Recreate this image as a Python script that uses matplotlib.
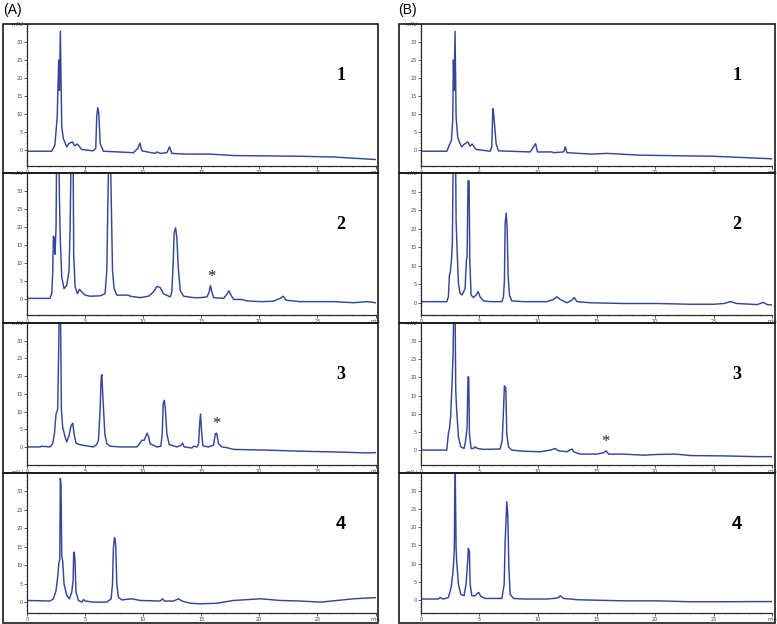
import matplotlib.pyplot as plt
from matplotlib.patches import Rectangle
from matplotlib.ticker import MultipleLocator

# retention time (min) / absorbance (mAU)
a1_t = [0, 2.13, 2.4, 2.6, 2.73, 2.79, 2.87, 2.99, 3.13, 3.42, 3.6, 3.9, 4.1, 4.34, 4.7, 5.7, 5.92, 6.0, 6.09, 6.18, 6.3, 6.58,
        9.17, 9.54, 9.71, 9.89, 11.03, 11.18, 11.47, 12.04, 12.27, 12.47, 13.76, 15.78, 17.8, 23.5, 26.4, 30.0]
a1_y = [-0.3, -0.3, 1.4, 9.2, 25, 16.6, 33, 6.5, 3.2, 0.9, 1.8, 2.3, 1.2, 1.7, 0.2, -0.2, 0.5, 9.2, 11.8, 10.2, 1.8, -0.3,
        -0.7, 0.5, 2.0, -0.2, -0.9, -0.5, -0.9, -0.7, 0.9, -0.9, -1.1, -1.1, -1.5, -1.7, -1.9, -2.6]

a2_t = [0, 1.98, 2.13, 2.21, 2.27, 2.36, 2.41, 2.5, 2.6, 2.7, 2.79, 2.87, 2.99, 3.19, 3.42, 3.62, 3.71, 3.84, 3.95, 4.02,
        4.14, 4.34, 4.51, 4.71, 5.0, 5.43, 6.29, 6.72, 6.87, 6.95, 7.06, 7.16, 7.24, 7.36, 7.5, 7.73, 8.74, 8.88, 9.74,
        10.46, 10.89, 11.18, 11.47, 11.75, 12.33, 12.47, 12.59, 12.67, 12.79, 12.9, 13.02, 13.19, 13.48, 14.34, 14.91,
        15.49, 15.69, 15.78, 15.89, 16.06, 16.93, 17.21, 17.39, 17.56, 17.79, 18.5, 18.94, 20.1, 21.2, 21.8, 22.04,
        22.3, 23.5, 26.4, 28.1, 29.3, 30.0]
a2_y = [0.3, 0.3, 1.6, 7.1, 17.5, 17.0, 12.5, 19.8, 60, 60, 28, 16.2, 6.2, 3.0, 3.9, 8.0, 19.8, 50, 50, 12.5,
        3.5, 1.6, 2.8, 2.1, 1.2, 0.9, 1.0, 1.6, 8.0, 24.4, 45, 45, 29.8, 8.0, 3.0, 1.2, 1.2, 0.9, 0.5,
        0.9, 2.1, 3.6, 3.3, 1.6, 0.7, 2.1, 10.7, 18.5, 19.8, 17.0, 8.9, 2.5, 0.9, 0.5, 0.5,
        0.7, 2.1, 3.9, 2.5, 0.5, 0.3, 1.5, 2.4, 1.2, 0.0, 0.0, -0.4, -0.6, -0.5, 0.3, 0.9,
        -0.2, -0.6, -0.6, -0.9, -0.6, -0.9]

a3_t = [0, 1.12, 1.26, 1.98, 2.21, 2.36, 2.5, 2.64, 2.73, 2.78, 2.88, 2.96, 3.07, 3.28, 3.42, 3.62, 3.79, 3.94, 4.05,
        4.22, 4.57, 5.14, 5.72, 6.0, 6.15, 6.29, 6.38, 6.44, 6.55, 6.7, 6.87, 7.16, 8.02, 9.45, 9.68, 9.89, 10.09,
        10.23, 10.34, 10.46, 10.6, 11.18, 11.52, 11.64, 11.72, 11.81, 11.9, 12.04, 12.24, 12.9, 13.25, 13.39, 13.53,
        14.2, 14.34, 14.63, 14.77, 14.86, 14.94, 15.03, 15.14, 15.63, 16.06, 16.21, 16.32, 16.49, 16.78, 17.21,
        17.79, 20.7, 23.5, 26.4, 29.3, 30.0]
a3_y = [0, 0, 0.2, 0, 0.9, 3.7, 9.3, 10.6, 27.8, 40, 40, 10.6, 5.6, 2.8, 1.4, 3.2, 6.0, 6.7, 3.7,
        1.1, 0.6, 0.3, 0, 0.7, 1.9, 10.2, 19.4, 20.4, 13.0, 3.7, 0.9, 0.2, 0, 0, 0.9, 1.9, 1.9,
        3.0, 3.9, 3.0, 0.9, 0, 0.2, 3.7, 12.0, 13.2, 11.1, 3.7, 0.7, 0, 0.4, 1.1, 0,
        -0.3, 0.2, 0, 0.9, 6.5, 9.3, 4.2, 0.3, 0, 0.5, 3.7, 3.9, 0.9, 0, -0.2,
        -0.7, -0.9, -1.2, -1.4, -1.7, -1.6]

a4_t = [0, 1.98, 2.27, 2.5, 2.64, 2.73, 2.82, 2.87, 2.93, 2.99, 3.07, 3.19, 3.42, 3.65, 3.85, 3.97, 4.02, 4.08, 4.14,
        4.22, 4.43, 4.71, 4.86, 5.0, 5.72, 6.87, 7.24, 7.36, 7.44, 7.53, 7.59, 7.64, 7.73, 7.87, 8.16, 9.02, 9.74,
        11.47, 11.67, 11.81, 12.61, 13.05, 13.33, 14.05, 14.91, 16.35, 17.79, 20.1, 21.8, 23.5, 25.3, 26.7, 28.1,
        29.3, 30.0]
a4_y = [0.45, 0.3, 0.9, 3.1, 6.7, 10.2, 11.6, 33.4, 31.6, 12.5, 11.1, 4.9, 1.8, 0.9, 2.7, 5.8, 13.5, 13.4, 10.2,
        2.7, 0.45, 0, 0.7, 0.3, 0, 0, 0.9, 4.9, 14.7, 17.4, 16.9, 15.1, 4.9, 1.3, 0.6, 0.9, 0.45,
        0.3, 0.9, 0.3, 0.3, 0.9, 0.3, -0.3, -0.45, -0.3, 0.45, 0.9, 0.45, 0.3, 0, 0.45, 0.9,
        1.1, 1.2]

b1_t = [0, 2.2, 2.6, 2.71, 2.77, 2.83, 2.91, 3.0, 3.14, 3.34, 3.48, 3.68, 4.0, 4.2, 4.37, 4.7, 5.9, 6.05, 6.14, 6.22,
        6.42, 6.62, 9.33, 9.62, 9.79, 9.96, 11.2, 11.33, 12.19, 12.33, 12.47, 14.5, 15.9, 18.75, 25.0, 30.0]
b1_y = [-0.3, -0.3, 2.7, 8.3, 25, 16.6, 33, 9.2, 3.5, 1.8, 0.9, 1.6, 2.3, 1.1, 1.7, 0.2, -0.3, 0.9, 11.5, 9.7,
        1.8, -0.2, -0.5, 0.9, 1.8, -0.5, -0.5, -0.7, -0.5, 0.9, -0.7, -1.1, -0.9, -1.4, -1.7, -2.4]

b2_t = [0, 2.2, 2.34, 2.43, 2.51, 2.6, 2.68, 2.77, 2.94, 3.0, 3.08, 3.2, 3.34, 3.51, 3.77, 3.88, 3.94, 4.02, 4.11,
        4.17, 4.28, 4.48, 4.71, 4.88, 5.05, 5.34, 5.91, 6.91, 7.05, 7.13, 7.19, 7.28, 7.36, 7.45, 7.56, 7.76, 8.76,
        9.9, 10.76, 11.33, 11.62, 11.9, 12.47, 12.9, 13.1, 13.33, 14.47, 17.32, 20.18, 23.03, 25.03, 25.9, 26.45,
        27.0, 28.2, 28.74, 29.25, 29.6, 30.0]
b2_y = [0.3, 0.3, 1.6, 7.4, 8.3, 11.5, 15.9, 45, 45, 22.2, 14.6, 5.2, 2.5, 2.1, 3.8, 11.5, 12.4, 32.9, 32.9,
        11.5, 2.1, 1.4, 2.1, 3.0, 1.6, 0.5, 0.3, 0.3, 1.6, 6.1, 21.3, 24.2, 20.4, 7.0, 2.1, 0.5, 0.3,
        0.3, 0.3, 0.9, 1.6, 0.9, 0, 0.7, 1.4, 0.3, 0, -0.2, -0.2, -0.4, -0.4, -0.2, 0.3,
        -0.2, -0.4, -0.5, 0.1, -0.5, -0.6]

b3_t = [0, 2.2, 2.34, 2.43, 2.54, 2.65, 2.74, 2.8, 2.91, 2.97, 3.05, 3.2, 3.4, 3.68, 3.82, 3.94, 4.02, 4.08, 4.14,
        4.28, 4.48, 4.62, 4.82, 5.34, 6.76, 6.94, 7.05, 7.13, 7.25, 7.33, 7.48, 7.76, 8.76, 10.19, 11.04, 11.47,
        11.76, 12.47, 12.9, 13.04, 13.61, 15.04, 15.61, 15.81, 16.04, 16.75, 17.32, 19.04, 20.18, 21.75, 23.03,
        25.9, 28.74, 30.0]
b3_y = [0, 0, 4.5, 5.9, 9.5, 18.2, 26.4, 40, 40, 16.4, 10.9, 3.6, 0.9, 0.45, 2.7, 6.4, 20.2, 20.0, 4.5,
        0.45, 0.45, 0.9, 0.45, 0.2, 0.3, 2.7, 10.9, 17.7, 17.1, 4.5, 0.9, 0, -0.3, -0.45, 0, 0.45,
        -0.2, -0.45, 0.3, -0.45, -1.1, -1.1, -0.7, -0.2, -1.1, -1.1, -1.1, -1.4, -1.2, -1.1, -1.5,
        -1.6, -1.8, -1.8]

b4_t = [0, 1.48, 1.63, 1.91, 2.34, 2.57, 2.71, 2.8, 2.85, 2.91, 3.0, 3.05, 3.2, 3.4, 3.68, 3.85, 3.97, 4.05, 4.14,
        4.2, 4.34, 4.62, 4.82, 4.94, 5.11, 5.48, 6.91, 7.11, 7.19, 7.28, 7.33, 7.42, 7.51, 7.62, 7.91, 8.76, 10.76,
        11.33, 11.76, 11.9, 12.19, 12.76, 13.33, 17.32, 20.18, 23.03, 25.9, 28.74, 30.0]
b4_y = [0.3, 0.3, 0.7, 0.3, 0.7, 3.4, 7.0, 10.6, 14.2, 40, 14.2, 10.6, 4.3, 1.6, 1.2, 4.3, 9.7, 14.2, 13.3,
        4.3, 1.2, 1.2, 1.8, 2.1, 1.0, 0.45, 0.45, 4.3, 16.0, 22.8, 27.0, 23.2, 8.8, 1.6, 0.45, 0.3, 0.3,
        0.45, 0.7, 1.2, 0.45, 0.3, 0.1, -0.2, -0.2, -0.45, -0.45, -0.4, -0.4]

traces = [[(a1_t, a1_y), (a2_t, a2_y), (a3_t, a3_y), (a4_t, a4_y)],
          [(b1_t, b1_y), (b2_t, b2_y), (b3_t, b3_y), (b4_t, b4_y)]]
ylims = [[(-4.4, 34.9), (-4.3, 34.4), (-5.1, 34.4), (-2.8, 34.6)],
         [(-4.4, 34.9), (-3.3, 34.8), (-4.1, 34.6), (-3.4, 34.4)]]
panel_labels = ["1", "2", "3", "4"]
col_labels = ["(A)", "(B)"]
# asterisks: (column, row, time, mAU)
stars = [(0, 1, 15.84, 6.2), (0, 2, 16.3, 6.5), (1, 2, 15.8, 2.1)]
xtick_labels = ["0", "5", "10", "15", "20", "25", "min"]
ytick_labels = ["0", "5", "10", "15", "20", "25", "30", "mAU"]

W, H = 777, 624
LINE = "#34469a"

fig = plt.figure(figsize=(W / 100, H / 100), dpi=100)


def fbox(x0, y0, x1, y1):
    # pixel box (top-left origin) -> figure fraction rect
    return [x0 / W, 1 - y1 / H, (x1 - x0) / W, (y1 - y0) / H]


box_x = [(3, 377.5), (398.5, 775)]
ax_x = [(27, 375.5), (421, 772)]
rows = [(24, 173), (173, 323), (323, 472.5), (472.5, 622.5)]
ax_h = [142, 142, 142, 140]

for c in range(2):
    fig.text(box_x[c][0] / W, 1 - 10 / H, col_labels[c], fontsize=10, va="center", ha="left",
             family="Liberation Sans")
    for r in range(4):
        top, bot = rows[r]
        fig.patches.append(Rectangle((box_x[c][0] / W, 1 - bot / H), (box_x[c][1] - box_x[c][0]) / W,
                                     (bot - top) / H, transform=fig.transFigure, fill=False,
                                     edgecolor="#1a1a1a", linewidth=1.2))
        ax = fig.add_axes(fbox(ax_x[c][0], top, ax_x[c][1], top + ax_h[r]))
        t, y = traces[c][r]
        ax.plot(t, y, color=LINE, linewidth=1.05)
        ax.set_xlim(0, 30)
        ax.set_ylim(*ylims[c][r])
        ax.spines["top"].set_visible(False)
        ax.spines["right"].set_visible(False)
        for s in ("left", "bottom"):
            ax.spines[s].set_linewidth(0.9)
            ax.spines[s].set_color("#2a2a2a")
        ax.patch.set_alpha(0)
        ax.set_xticks(range(0, 31, 5))
        ax.set_xticklabels(xtick_labels)
        ax.set_yticks(range(0, 36, 5))
        ax.set_yticklabels(ytick_labels)
        ax.xaxis.set_minor_locator(MultipleLocator(1))
        ax.yaxis.set_minor_locator(MultipleLocator(1))
        ax.tick_params(which="major", direction="out", length=2, width=0.6, labelsize=3.6, pad=1,
                       colors="#444444")
        ax.tick_params(which="minor", direction="out", length=1, width=0.4, colors="#444444")
        if r < 3:
            fam, lab_y = "Liberation Serif", 0.64
        else:
            fam, lab_y = "Liberation Sans", 0.63
        ax.text(0.90, lab_y, panel_labels[r], transform=ax.transAxes, fontsize=13, fontweight="bold",
                family=fam, ha="center", va="center")
        for sc, sr, st, sv in stars:
            if sc == c and sr == r:
                ax.text(st, sv, "*", fontsize=12, ha="center", va="center", family="Liberation Serif",
                        color="#222222")

fig.savefig("out.png", dpi=100)
